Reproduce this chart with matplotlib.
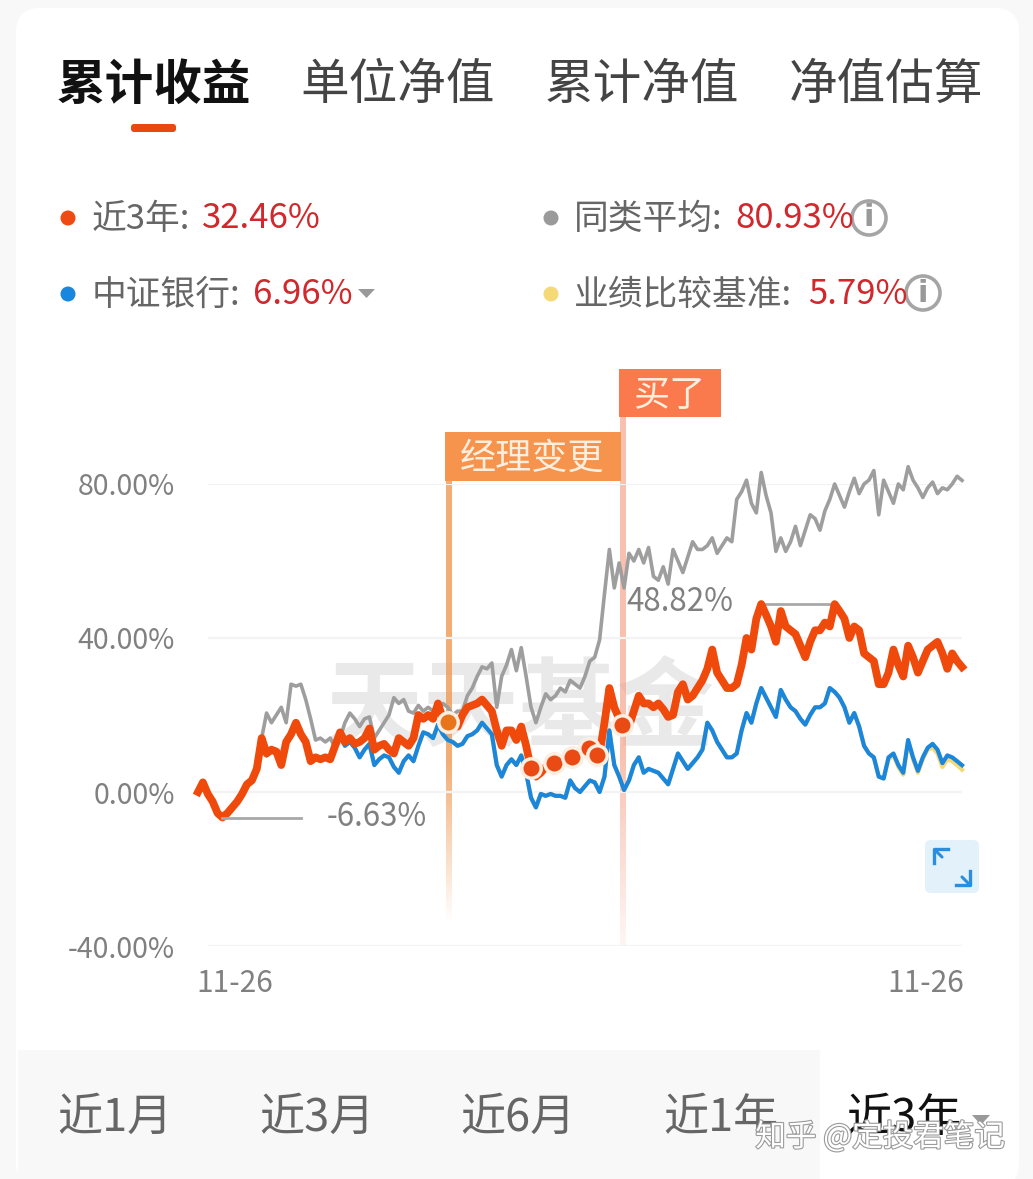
import numpy as np
import matplotlib
matplotlib.use('Agg')
import matplotlib.pyplot as plt
from matplotlib.patches import Rectangle, FancyBboxPatch, Circle, Polygon
import matplotlib.patheffects as pe

plt.rcParams['font.family'] = ['Noto Sans CJK SC', 'DejaVu Sans']

tabs = ['累计收益', '单位净值', '累计净值', '净值估算']
periods = ['近1月', '近3月', '近6月', '近1年', '近3年']
y_ticks = [80, 40, 0, -40]
y_labels = ['80.00%', '40.00%', '0.00%', '-40.00%']
x_labels = ['11-26', '11-26']
x_label_weeks = [7.5, 148.7]

fund = [0,2.5,-0.5,-2.5,-5.5,-6.63,-5.5,-4,-2.5,-0.5,2,3,6,14,10,11,10.5,7,13,15,18,15,13,8,9,8.5,9,8.5,12,15.5,
        13,14,12.5,13,14,16.5,11,12,12.5,11,10,14,13,12,14,20,19,20,19,23,19,18,17.5,17,20,22,22.5,23,24,22.5,
        21,16,12,16,16,13.5,17,12,6,4,5,6.5,7.5,7.5,8,9,9.5,10,9.5,11,10,9.5,10,18,27,22,19,18,17,21,
        25,23,23,22,23,21.5,19.5,20,26,28,24,25,27,29,32,37,31,29,27,27,28,33,40,37,45,48.82,46,43,39,47,
        43,42,41,38,35,39,42,42,44,43,48.8,47,45,40,43,42,36,35,34,28,28,31,37,33,30,38,35,31,34,37,
        38,39,36,32,36,34,32.46]
index_ = [0,2.5,-0.5,-2.5,-5.5,-6.4,-5.5,-4,-2.5,-0.5,2,3,6,13,9.5,10.5,10,7,12.5,14.5,17.5,15,13,8,9,8.5,9,8.5,11.5,14.5,
          12,13,11.5,9,11,12.5,7,8.5,9.5,9,6.5,5,8,9.5,8,12,15.5,15,14,17.5,15,13.5,13,12,12.5,14.5,15,16,18,16.5,
          15,7,4,7,8.5,7,9.5,5,-1.5,-4,-0.5,-1,-0.5,-1,-1,-1.5,3,1,0,1.5,3,2.5,0,
          4,16,7,4,0.5,3,7,9,5,6,5.5,5,3.5,2,6,10,8,6,7.5,9,11,18,16,13,11,9,9,10,16,20.5,18,23,27,24.5,22,19.5,26.5,
          24,22,21,19,17.5,20,22,22,23,27,26,24.5,22,18,20.5,17,12,10,9,4,3.5,9,10,7,5,13.5,9,5.5,9,11.5,12.5,11,7.5,9.5,9,8,6.96]
peer = [0,2.5,-0.5,-2,-5,-6,-5,-3.5,-2,0,2.5,3.5,7,14,20.5,18,20,22,18,28,27.5,28,24,19,13.5,14,13,14,11.5,14,
        18,20.5,19,17,19,19.5,14,16,18,20,24.5,23,24,21,20.5,22.5,21,22,21,21,23,22,20,21,21,25,27,30,32.5,32,
        33.5,22,30,33,37,31.5,37.5,30,22,18,22,25.5,24,25,27,26,29,28,27,30,34,35,39.5,51.5,63,53,59.5,53,62,
        60,63,59.5,63.5,56,55,58.5,54,63,60,57,61,65,63,63,64,66,62,64,66,65,76,78,81,75,72.5,83,77,72.5,62.5,
        66,62.5,65,69,64,68,72,71,68,73,76,80,77,74,78,81.5,77.5,80,81,83.5,72,81,78,75,80,78.5,84.5,81,79,76.5,
        79,80.5,77.5,79,78.5,80,82,80.93]
benchmark = index_[:141] + [8.5,9.5,6.5,4.5,13,8.5,5,8.5,11,11.5,10,6.5,8.5,8,7,5.79]
marker_weeks = [51, 68, 72.7, 76.3, 79.8, 81.4, 86.5]
marker_vals = [18.2, 6.2, 7.5, 9, 11.4, 9.6, 17.4]

legend_names = ['近3年:', '同类平均:', '中证银行:', '业绩比较基准:']
legend_values = ['32.46%', '80.93%', '6.96%', '5.79%']
legend_colors = ['#ef4a12', '#9a9a9a', '#1a86dc', '#f5d977']

W, H = 1033, 1179
fig = plt.figure(figsize=(W/100, H/100), dpi=100, facecolor='#f8f8f8')

bg = fig.add_axes([0, 0, 1, 1], zorder=0)
bg.set_xlim(0, W); bg.set_ylim(H, 0); bg.axis('off')
bg.add_patch(FancyBboxPatch((16, 8), W-30, H, boxstyle='round,pad=0,rounding_size=24', fc='white', ec='none'))
bg.add_patch(Rectangle((18, 1050), 802, 130, fc='#f8f8f8', ec='none'))
bg.text(520, 711, '天天基金', fontsize=70, fontweight='bold', color='#e9e9e9', ha='center', va='center')

# tabs
xs = [154, 398, 642, 886]
for i, (t, x) in enumerate(zip(tabs, xs)):
    bg.text(x, 85, t, fontsize=35, ha='center', va='center', color='#111111' if i == 0 else '#444444',
            fontweight='bold' if i == 0 else 'normal')
bg.add_patch(FancyBboxPatch((131, 124), 45, 8, boxstyle='round,pad=0,rounding_size=3', fc='#e8490f', ec='none'))

# legend
dot_x = [68, 551, 68, 551]
row_y = [219, 219, 295, 295]
name_x = [92, 574, 92, 574]
val_x = [202, 735, 253, 808]
for n, v, c, dx, ry, nx, vx in zip(legend_names, legend_values, legend_colors, dot_x, row_y, name_x, val_x):
    bg.add_patch(Circle((dx, ry-1), 7.5, fc=c, ec='none'))
    bg.text(nx, ry, n, fontsize=25, color='#666666', va='center', ha='left')
    bg.text(vx, ry, v, fontsize=25, color='#d0282c', va='center', ha='left')
for cx, cy in [(869, 218), (923, 293)]:
    bg.add_patch(Circle((cx, cy), 17, fc='white', ec='#a5a5a5', lw=2.6))
    bg.text(cx, cy, 'i', fontsize=22, fontweight='bold', color='#999999', ha='center', va='center', family='DejaVu Sans')
bg.add_patch(Polygon([(358, 289), (375, 289), (366.5, 298)], fc='#999999', ec='none'))

# periods
pxs = [115, 317, 518, 721, 904]
for i, (p, x) in enumerate(zip(periods, pxs)):
    bg.text(x, 1118, p, fontsize=32.5, ha='center', va='center', color='#111111' if i == 4 else '#666666')
bg.add_patch(Polygon([(972, 1115), (990, 1115), (981, 1125)], fc='#999999', ec='none'))

# chart
ax = fig.add_axes([198/W, 1-946/H, (962-198)/W, (946-484)/H], zorder=2)
ax.patch.set_alpha(0)
ax.set_xlim(0, 156); ax.set_ylim(-40, 80)
for s in ax.spines.values():
    s.set_visible(False)
ax.set_yticks(y_ticks, y_labels, fontsize=20.5, color='#808080')
ax.set_xticks(x_label_weeks, x_labels, fontsize=21.5, color='#808080')
ax.tick_params(length=0)
ax.tick_params(axis='y', pad=16.5)
ax.tick_params(axis='x', pad=16)
ax.hlines(y_ticks, 2, 156, color='#f3f3f3', lw=1.6, zorder=1)

weeks = np.arange(len(fund))
ax.plot(weeks, benchmark, color='#f5d977', lw=3, zorder=3, solid_joinstyle='round', clip_on=False)
ax.plot(weeks, peer, color='#9e9e9e', lw=2.6, zorder=4, solid_joinstyle='round', clip_on=False)
ax.plot(weeks, index_, color='#1a86dc', lw=3, zorder=5, solid_joinstyle='round', clip_on=False)
ax.plot(weeks, fund, color='#ef4a0c', lw=5.6, zorder=6, solid_joinstyle='round', clip_on=False)

# extremes
ax.plot([5, 21], [-6.63, -6.63], color='#a8a8a8', lw=2, zorder=7)
ax.text(26.3, -6.4, '-6.63%', fontsize=22.5, color='#808080', va='center', ha='left')
ax.plot([114.5, 130.5], [48.82, 48.82], color='#a8a8a8', lw=2, zorder=5.5)
ax.text(87.5, 49.4, '48.82%', fontsize=22.5, color='#808080', va='center', ha='left')

# event bands with banners
ov = fig.add_axes([0, 0, 1, 1], zorder=3)
ov.set_xlim(0, W); ov.set_ylim(H, 0); ov.axis('off'); ov.patch.set_alpha(0)
def band(x0, x1, y0, y1, rgb, a0, a1):
    g = np.zeros((64, 1, 4))
    g[..., :3] = rgb
    g[:, 0, 3] = np.concatenate([np.full(40, a0), np.linspace(a0, a1, 24)])
    ov.imshow(g, extent=(x0, x1, y1, y0), aspect='auto', zorder=1, interpolation='bilinear')
band(445.5, 451.5, 478, 925, (0.94, 0.62, 0.36), 0.85, 0.0)
band(619.5, 625.5, 414, 946, (0.96, 0.62, 0.52), 0.65, 0.1)
ov.set_xlim(0, W); ov.set_ylim(H, 0)
ov.add_patch(Rectangle((445, 432), 176, 49, fc='#f6934c', ec='none', zorder=2))
ov.text(532, 459, '经理变更', fontsize=26, color='#fdeede', ha='center', va='center', zorder=3)
ov.add_patch(Rectangle((619, 369), 102, 48, fc='#fb7a4d', ec='none', zorder=2))
ov.text(669, 396, '买了', fontsize=26, color='#fdeede', ha='center', va='center', zorder=3)

# event markers drawn on the chart's scale
for i, (w, v) in enumerate(zip(marker_weeks, marker_vals)):
    ax.plot([w], [v], 'o', ms=14, mfc='#e8741c' if i == 0 else '#ea4a14', mec='#fdeee2', mew=2.5, zorder=9)
ax.set_zorder(4); ax.patch.set_alpha(0)

# expand button
top = fig.add_axes([0, 0, 1, 1], zorder=5)
top.set_xlim(0, W); top.set_ylim(H, 0); top.axis('off'); top.patch.set_alpha(0)
top.add_patch(FancyBboxPatch((925, 840), 54, 53, boxstyle='round,pad=0,rounding_size=6', fc='#e3f1fb', ec='none'))
for (a, b) in [((944, 859), (934, 849)), ((960, 875), (970, 885))]:
    top.annotate('', xy=b, xytext=a, arrowprops=dict(arrowstyle='-', color='#2a8ee0', lw=2.2))
top.plot([934, 934, 948], [863, 849, 849], color='#2a8ee0', lw=2.4)
top.plot([956, 970, 970], [885, 885, 871], color='#2a8ee0', lw=2.4)
top.text(880, 1137, '知乎 @定投君笔记', fontsize=22, color='white', ha='center', va='center',
         path_effects=[pe.withStroke(linewidth=1.6, foreground='#9a9a9a')])

fig.savefig('out.png', dpi=100, facecolor=fig.get_facecolor())
